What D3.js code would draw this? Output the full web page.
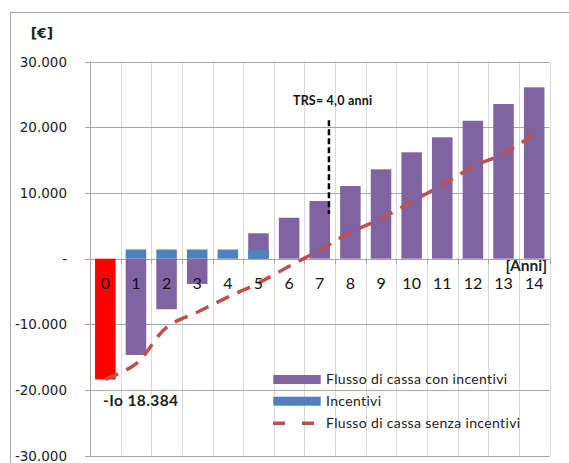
<!DOCTYPE html>
<html><head><meta charset="utf-8">
<script src="https://cdn.jsdelivr.net/npm/d3@7"></script>
<style>body{margin:0;background:#fff}svg{display:block}</style>
</head><body>
<svg id="c" width="569" height="463"></svg>
<script>
const categories = ["0","1","2","3","4","5","6","7","8","9","10","11","12","13","14"];
// Flusso di cassa con incentivi (cumulative); index 0 = investimento iniziale (red)
const flussoCon = [-18384,-14660,-7700,-3850,0,3870,6240,8790,11070,13610,16200,18490,21010,23560,26100];
const incentivi = [0,1400,1400,1400,1400,1400,0,0,0,0,0,0,0,0,0];
const flussoSenza = [-18384,-16000,-10460,-8150,-5850,-3700,-1150,1330,4000,6100,8700,11220,14000,16000,18990];
const yTicks = [-30000,-20000,-10000,0,10000,20000,30000];
const yTickLabels = ["-30.000","-20.000","-10.000","-","10.000","20.000","30.000"];
const legendLabels = ["Flusso di cassa con incentivi","Incentivi","Flusso di cassa senza incentivi"];
const trsPos = 7.3, trsTop = 21100, trsBottom = 6800;
const trsLabel = "TRS= 4,0 anni";
const ioLabel = "-Io 18.384";

const colPurple = "#8064A2", colBlue = "#4F81BD", colRed = "#FF0000", colLine = "#C0504D";

const svg = d3.select("#c");
svg.append("rect").attr("x",10.5).attr("y",12.5).attr("width",600).attr("height",500)
  .attr("fill","none").attr("stroke","#a6a6a6");

const x = d3.scaleBand().domain(categories).range([90,549.5]).paddingInner(0.33).paddingOuter(0.165);
const y = d3.scaleLinear().domain([-30000,30000]).range([455.7,61.7]);
const cx = i => x(categories[i]) + x.bandwidth()/2;
const xl = d3.scaleLinear().domain([0,14]).range([cx(0),cx(14)]);
const step = x.step();

// vertical gridlines
const bounds = d3.range(categories.length+1).map(i => 90 + i*step);
svg.selectAll(".vg").data(bounds).join("line")
  .attr("x1",d=>Math.round(d)+0.5).attr("x2",d=>Math.round(d)+0.5)
  .attr("y1",y(30000)).attr("y2",y(-30000)).attr("stroke","#d9d9d9").attr("stroke-width",1);
// horizontal gridlines
svg.selectAll(".hg").data(yTicks).join("line")
  .attr("x1",85).attr("x2",549.5)
  .attr("y1",d=>Math.round(y(d))+0.5).attr("y2",d=>Math.round(y(d))+0.5)
  .attr("stroke","#a6a6a6").attr("stroke-width",1);
// y axis line
svg.append("line").attr("x1",90.5).attr("x2",90.5).attr("y1",y(30000)).attr("y2",y(-30000))
  .attr("stroke","#a6a6a6");
// category tick marks at zero
svg.selectAll(".ct").data(bounds).join("line")
  .attr("x1",d=>Math.round(d)+0.5).attr("x2",d=>Math.round(d)+0.5)
  .attr("y1",y(0)).attr("y2",y(0)+5).attr("stroke","#a6a6a6");

// y tick labels
svg.selectAll(".yl").data(yTicks).join("text")
  .attr("x",67).attr("y",d=>y(d)).attr("dy","0.36em").attr("text-anchor","end")
  .attr("font-family","DejaVu Sans").attr("font-size",13.5).attr("fill","#222")
  .text((d,i)=>yTickLabels[i]);
svg.append("text").attr("x",42).attr("y",38).attr("text-anchor","middle")
  .attr("font-family","DejaVu Sans").attr("font-weight","bold").attr("font-size",14).attr("fill","#222").text("[€]");

// bars
svg.selectAll(".bp").data(flussoCon).join("rect")
  .attr("x",(d,i)=>x(categories[i])).attr("width",x.bandwidth())
  .attr("y",d=>y(Math.max(0,d))).attr("height",d=>Math.abs(y(d)-y(0)))
  .attr("fill",(d,i)=>i===0?colRed:colPurple);
svg.selectAll(".bb").data(incentivi).join("rect")
  .attr("x",(d,i)=>x(categories[i])).attr("width",x.bandwidth())
  .attr("y",d=>y(Math.max(0,d))).attr("height",d=>Math.abs(y(d)-y(0)))
  .attr("fill",colBlue);

// line
const line = d3.line().x((d,i)=>cx(i)).y(d=>y(d)).curve(d3.curveCatmullRom.alpha(0.5));
svg.append("path").attr("d",line(flussoSenza)).attr("fill","none")
  .attr("stroke",colLine).attr("stroke-width",3.5).attr("stroke-dasharray","14,9");

// category labels
svg.selectAll(".cl").data(categories).join("text")
  .attr("x",(d,i)=>cx(i)).attr("y",y(0)+30).attr("text-anchor","middle")
  .attr("font-family","Lato").attr("font-size",16).attr("fill","#111").text(d=>d);
svg.append("text").attr("x",547).attr("y",y(0)+12.5).attr("text-anchor","end")
  .attr("font-family","Lato").attr("font-weight","bold").attr("font-size",15.5).attr("fill","#222").text("[Anni]");

// TRS marker
svg.append("line").attr("x1",xl(trsPos)).attr("x2",xl(trsPos)).attr("y1",y(trsTop)).attr("y2",y(trsBottom))
  .attr("stroke","#000").attr("stroke-width",2.5).attr("stroke-dasharray","6,3");
svg.append("text").attr("x",xl(trsPos)-36).attr("y",105)
  .attr("font-family","Lato").attr("font-weight","bold").attr("font-size",12.5).attr("letter-spacing",0.2)
  .attr("fill","#111").text(trsLabel);

// Io label
svg.append("text").attr("x",x(categories[0])+8).attr("y",y(flussoCon[0])+27)
  .attr("font-family","Lato").attr("font-weight","bold").attr("font-size",15.5).attr("letter-spacing",0.4)
  .attr("fill","#222").text(ioLabel);

// legend
const lg = svg.append("g");
const ly = [379.5, 401.2, 423.3];
lg.append("rect").attr("x",273.3).attr("y",ly[0]-4.5).attr("width",47.4).attr("height",9).attr("fill",colPurple);
lg.append("rect").attr("x",273.3).attr("y",ly[1]-4.5).attr("width",47.4).attr("height",9).attr("fill",colBlue);
lg.append("line").attr("x1",273).attr("x2",321).attr("y1",ly[2]).attr("y2",ly[2])
  .attr("stroke",colLine).attr("stroke-width",3.5).attr("stroke-dasharray","12,17");
lg.selectAll("text").data(legendLabels).join("text")
  .attr("x",326).attr("y",(d,i)=>ly[i]+4.5)
  .attr("font-family","Lato").attr("font-size",14).attr("letter-spacing",0.35).attr("fill","#222").text(d=>d);
</script>
</body></html>
